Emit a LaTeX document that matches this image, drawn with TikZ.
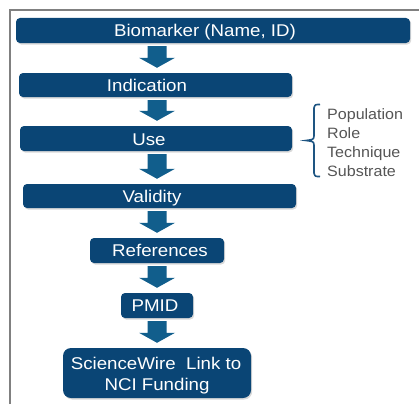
\documentclass[tikz,border=0pt]{standalone}
\usepackage{fontspec}
\setmainfont{Liberation Sans}
\newfontfamily\boxfont[FakeStretch=1.1]{Liberation Sans}
\newfontfamily\listfont[FakeStretch=1.07]{Liberation Sans}
\usetikzlibrary{shadows,calc}
\definecolor{boxc}{RGB}{10,69,117}
\definecolor{arrowc}{RGB}{17,94,140}
\definecolor{listc}{RGB}{85,85,85}
\definecolor{bracec}{RGB}{30,85,130}
\definecolor{framec}{RGB}{128,128,128}
\tikzset{
  box/.style={fill=boxc, rounded corners=4pt, inner sep=0pt,
    drop shadow={opacity=0.3, shadow xshift=1.2pt, shadow yshift=-1.5pt}},
  lbl/.style={anchor=base, text=white, inner sep=0pt, font=\boxfont\fontsize{17}{20}\selectfont},
  item/.style={anchor=base west, text=listc, inner sep=0pt, font=\listfont\fontsize{15}{18}\selectfont},
}
\newcommand\myarrow[2]{\fill[arrowc] let \p1=(#1.south), \p2=(#2.north) in
  (147.5pt,\y1-3pt) -- (166.5pt,\y1-3pt) -- (166.5pt,\y2+15pt) -- (175pt,\y2+15pt)
  -- (157pt,\y2+5pt) -- (139pt,\y2+15pt) -- (147.5pt,\y2+15pt) -- cycle;}
\begin{document}
\begin{tikzpicture}[x=1pt,y=-1pt]
\useasboundingbox (0,0) rectangle (419,404);
\draw[framec, line width=2pt] (10,404) -- (10,10) -- (419,10);
% boxes
\node[box, minimum width=394pt, minimum height=25pt] (bio) at (213,30.5) {};
\node[box, minimum width=273pt, minimum height=24pt] (ind) at (155.5,85) {};
\node[box, minimum width=272pt, minimum height=25pt] (use) at (156,138.5) {};
\node[box, minimum width=273pt, minimum height=24pt] (val) at (159.5,196) {};
\node[box, minimum width=134pt, minimum height=25pt] (ref) at (157,250.5) {};
\node[box, minimum width=72pt, minimum height=25pt] (pmid) at (157,305.5) {};
\node[box, rounded corners=8pt, minimum width=188pt, minimum height=50pt] (sw) at (157,373) {};
% labels
\node[lbl] (tbio) at (205,36.7) {Biomarker (Name, ID)};
\node[lbl] (tind) at (147,91.7) {Indication};
\node[lbl] (tuse) at (149,145) {Use};
\node[lbl] (tval) at (152,202.7) {Validity};
\node[lbl] (tref) at (160,256.7) {References};
\node[lbl] (tpmid) at (155,311.7) {PMID};
\node[lbl] (tsw1) at (156,369.3) {ScienceWire\ \ Link to};
\node[lbl] (tsw2) at (157,390.7) {NCI Funding};
% arrows
\myarrow{bio}{ind}
\myarrow{ind}{use}
\myarrow{use}{val}
\myarrow{val}{ref}
\myarrow{ref}{pmid}
\myarrow{pmid}{sw}
% brace
\draw[bracec, line width=1.6pt] (320,104.5) .. controls (315,104.5) .. (314,108)
  -- (314,136) .. controls (313.5,139.5) .. (306,140.5)
  .. controls (313.5,141.5) .. (314,145) -- (314,173)
  .. controls (315,176.5) .. (320,176.5);
\node[item] (p1) at (327,119.5) {Population};
\node[item] (p2) at (327,138) {Role};
\node[item] (p3) at (327,157) {Technique};
\node[item] (p4) at (327,176) {Substrate};
\end{tikzpicture}
\end{document}
